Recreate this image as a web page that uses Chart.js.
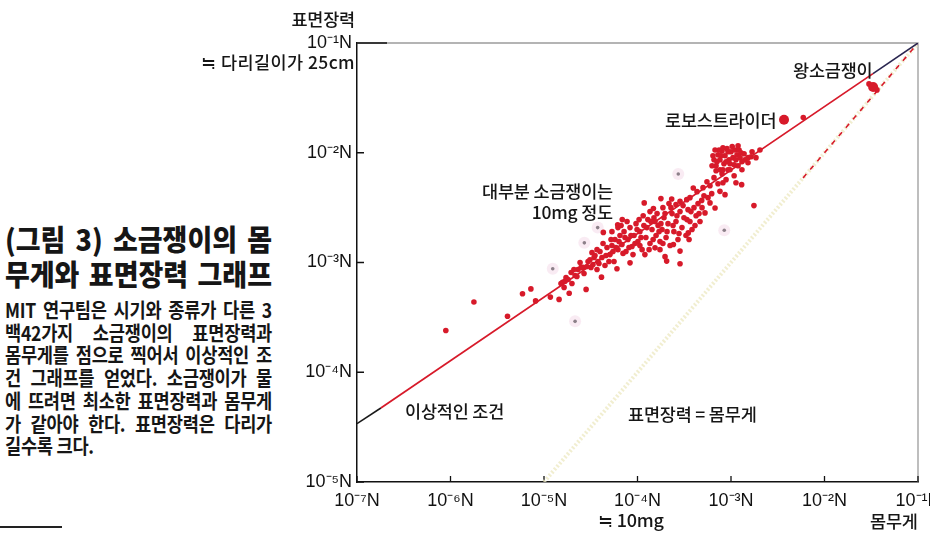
<!DOCTYPE html>
<html><head><meta charset="utf-8">
<script src="https://cdn.jsdelivr.net/npm/chart.js"></script>
<style>
html,body{margin:0;padding:0;background:#fff;}
body{width:930px;height:534px;overflow:hidden;position:relative;font-family:"Noto Sans CJK KR","Noto Sans",sans-serif;color:#161616;}
#wrap{position:absolute;left:290px;top:0;width:700px;height:534px;}
.blk{position:absolute;left:5px;transform-origin:0 0;}
.blk > div{white-space:nowrap;}
.a{position:absolute;white-space:nowrap;font-size:17.5px;font-weight:500;line-height:1;letter-spacing:-0.2px;}
</style></head><body>

<div id="title" class="blk" style="top:221px;transform:scaleX(0.93);font-size:29px;font-weight:900;line-height:34.5px;">
<div class="fit">(그림 3) 소금쟁이의 몸</div>
<div class="fit">무게와 표면장력 그래프</div>
</div>
<div id="body" class="blk" style="top:299px;transform:scaleX(0.88);font-size:20px;font-weight:700;line-height:22.7px;letter-spacing:-0.3px;">
<div class="fit">MIT 연구팀은 시기와 종류가 다른 3</div>
<div class="fit">백42가지 소금쟁이의 표면장력과</div>
<div class="fit">몸무게를 점으로 찍어서 이상적인 조</div>
<div class="fit">건 그래프를 얻었다. 소금쟁이가 물</div>
<div class="fit">에 뜨려면 최소한 표면장력과 몸무게</div>
<div class="fit">가 같아야 한다. 표면장력은 다리가</div>
<div>길수록 크다.</div>
</div>
<div style="position:absolute;left:0;top:526px;width:62px;height:2px;background:#222"></div>

<div id="wrap"><canvas id="c"></canvas></div>

<div class="a" style="right:575px;top:10px;">표면장력</div>
<div class="a" style="right:575px;top:53px;letter-spacing:0.4px;">≒ 다리길이가 25cm</div>
<div class="a" style="left:598px;top:510px;font-size:18px;">≒ 10mg</div>
<div class="a" style="left:870px;top:512px;">몸무게</div>
<div class="a" style="left:793px;top:61px;">왕소금쟁이</div>
<div class="a" style="left:665px;top:111px;">로보스트라이더</div>
<div class="a" style="right:317px;top:180px;text-align:right;line-height:21px;">대부분 소금쟁이는<br>10mg 정도</div>
<div class="a" style="left:405px;top:402px;">이상적인 조건</div>
<div class="a" style="left:628px;top:405px;">표면장력 = 몸무게</div>

<script>
// axis ticks
const xTickValues = [1e-7, 1e-6, 1e-5, 1e-4, 1e-3, 1e-2, 1e-1];
const xTickLabels = ['10⁻⁷N', '10⁻⁶N', '10⁻⁵N', '10⁻⁴N', '10⁻³N', '10⁻²N', '10⁻¹N'];
const yTickValues = [1e-5, 1e-4, 1e-3, 1e-2, 1e-1];
const yTickLabels = ['10⁻⁵N', '10⁻⁴N', '10⁻³N', '10⁻²N', '10⁻¹N'];

// water strider points: weight (N) and surface tension force (N)
const weightN = [
 8.91e-7,1.78e-6,4.07e-6,5.89e-6,7.24e-6,8.13e-6,1.17e-5,1.45e-5,1.86e-5,2.82e-5,1.58e-5,1.68e-5,4.12e-5,6.03e-5,8.32e-5,
 1.72e-5,1.95e-5,2.15e-5,2.31e-5,2.43e-5,2.61e-5,2.88e-5,3.10e-5,3.26e-5,3.51e-5,3.78e-5,3.97e-5,4.17e-5,4.49e-5,4.72e-5,5.08e-5,5.33e-5,5.61e-5,3.69e-5,3.34e-5,
 5.74e-5,6.18e-5,6.50e-5,6.82e-5,7.18e-5,7.53e-5,7.91e-5,8.32e-5,8.73e-5,9.18e-5,9.64e-5,1.01e-4,1.06e-4,1.12e-4,1.17e-4,1.23e-4,1.29e-4,1.36e-4,1.43e-4,1.50e-4,1.58e-4,1.66e-4,1.74e-4,5.33e-5,6.18e-5,7.73e-5,8.95e-5,1.20e-4,1.06e-4,
 1.83e-4,1.92e-4,2.02e-4,2.12e-4,2.23e-4,2.34e-4,2.45e-4,2.58e-4,2.71e-4,2.85e-4,2.99e-4,3.14e-4,3.30e-4,3.47e-4,3.64e-4,3.83e-4,4.02e-4,4.23e-4,4.44e-4,4.66e-4,1.87e-4,2.17e-4,2.58e-4,3.64e-4,4.33e-4,1.54e-4,1.36e-4,1.74e-4,
 1.18e-4,1.48e-4,1.78e-4,2.32e-4,2.85e-4,3.95e-4,4.86e-4,5.96e-4,6.22e-4,7.62e-4,6.75e-4,5.27e-4,3.49e-4,2.85e-4,1.97e-4,2.05e-4,2.85e-4,2.42e-4,1.54e-4,1.30e-3,1.76e-3,8.63e-4,6.14e-5,6.87e-5,4.31e-5,3.36e-4,
 5.02e-4,5.53e-4,5.96e-4,6.58e-4,7.26e-4,8.02e-4,8.85e-4,9.75e-4,1.08e-3,1.19e-3,1.31e-3,1.41e-3,1.13e-3,8.20e-4,1.52e-3,2.04e-3,1.64e-3,
 6.58e-4,6.92e-4,7.26e-4,7.62e-4,7.62e-4,8.02e-4,8.41e-4,8.63e-4,9.06e-4,9.29e-4,9.53e-4,1.00e-3,1.05e-3,1.10e-3,1.16e-3,1.22e-3,1.28e-3,6.92e-4,6.27e-4,8.20e-4,9.75e-4,7.45e-4,
 1.52e-5,1.64e-5,1.81e-5,1.99e-5,2.09e-5,2.25e-5,2.49e-5,2.68e-5,2.96e-5,3.18e-5,3.43e-5,3.69e-5,3.87e-5,4.28e-5,4.60e-5,4.95e-5,5.21e-5,5.47e-5,
 5.89e-5,6.34e-5,6.67e-5,7.00e-5,7.35e-5,8.11e-5,8.51e-5,9.40e-5,9.89e-5,1.04e-4,1.09e-4,1.15e-4,1.26e-4,1.33e-4,1.39e-4,1.47e-4,1.62e-4,1.70e-4,1.78e-4,1.87e-4,
 1.97e-4,2.07e-4,2.28e-4,2.40e-4,2.64e-4,2.78e-4,3.07e-4,3.38e-4,3.56e-4,3.73e-4,4.12e-4,4.55e-4,4.90e-4,5.14e-4,5.68e-4,
 6.41e-4,6.75e-4,7.08e-4,7.82e-4,8.20e-4,8.85e-4,9.29e-4,1.03e-3,1.08e-3,1.13e-3,1.25e-3,1.31e-3,1.38e-3,1.19e-3,
 1.52e-3,1.68e-3,1.85e-3,
 5.93e-3,2.99e-2,3.64e-2
];
const tensionN = [
 2.40e-4,4.37e-4,3.24e-4,5.19e-4,5.75e-4,4.47e-4,4.84e-4,4.61e-4,5.25e-4,5.69e-4,6.61e-4,6.76e-4,7.35e-4,8.77e-4,9.93e-4,
 7.31e-4,8.11e-4,7.62e-4,8.63e-4,1.00e-3,9.02e-4,9.20e-4,1.06e-3,1.23e-3,1.16e-3,1.02e-3,1.26e-3,1.11e-3,9.40e-4,1.37e-3,1.18e-3,1.43e-3,1.02e-3,8.63e-4,9.59e-4,
 1.62e-3,1.31e-3,1.76e-3,1.46e-3,1.91e-3,1.26e-3,1.62e-3,2.08e-3,1.40e-3,1.76e-3,2.26e-3,1.55e-3,1.91e-3,1.31e-3,2.17e-3,1.69e-3,2.46e-3,1.49e-3,2.00e-3,2.56e-3,1.76e-3,2.17e-3,1.55e-3,1.91e-3,2.08e-3,2.36e-3,1.18e-3,1.18e-3,1.43e-3,
 2.00e-3,2.56e-3,1.69e-3,2.26e-3,1.43e-3,2.79e-3,1.91e-3,2.36e-3,1.62e-3,2.91e-3,2.08e-3,2.56e-3,1.76e-3,3.03e-3,2.36e-3,2.00e-3,3.16e-3,2.67e-3,3.44e-3,2.36e-3,3.16e-3,3.44e-3,3.37e-3,3.90e-3,4.42e-3,2.36e-3,2.91e-3,1.31e-3,
 3.49e-3,3.10e-3,3.82e-3,3.79e-3,3.61e-3,4.78e-3,3.68e-3,3.49e-3,4.24e-3,4.45e-3,3.14e-3,2.83e-3,1.86e-3,1.27e-3,1.13e-3,1.03e-3,9.73e-4,1.46e-3,1.36e-3,5.12e-3,3.30e-3,4.15e-3,2.21e-3,2.46e-3,1.88e-3,3.74e-3,
 4.81e-3,5.45e-3,5.01e-3,5.93e-3,5.22e-3,6.44e-3,5.69e-3,7.00e-3,6.18e-3,7.62e-3,7.00e-3,8.63e-3,5.33e-3,5.33e-3,9.02e-3,1.06e-2,9.20e-3,
 8.63e-3,7.62e-3,9.59e-3,7.00e-3,8.63e-3,1.04e-2,7.94e-3,9.40e-3,1.09e-2,7.00e-3,8.63e-3,1.02e-2,9.02e-3,1.06e-2,9.59e-3,1.06e-2,1.00e-2,6.85e-3,7.62e-3,7.00e-3,7.94e-3,1.06e-2,
 6.44e-4,5.93e-4,7.00e-4,6.44e-4,8.63e-4,7.46e-4,9.02e-4,7.94e-4,1.02e-3,9.02e-4,1.11e-3,1.31e-3,9.79e-4,1.49e-3,1.16e-3,1.02e-3,1.62e-3,1.26e-3,
 1.37e-3,1.55e-3,2.17e-3,1.21e-3,1.69e-3,1.37e-3,1.76e-3,1.49e-3,2.00e-3,2.46e-3,1.69e-3,2.67e-3,2.08e-3,1.31e-3,2.36e-3,1.62e-3,2.79e-3,1.91e-3,2.26e-3,1.49e-3,
 2.79e-3,1.91e-3,3.16e-3,2.17e-3,2.67e-3,1.84e-3,3.30e-3,2.46e-3,1.62e-3,2.91e-3,2.17e-3,2.79e-3,3.16e-3,4.06e-3,3.90e-3,
 9.40e-3,1.06e-2,8.28e-3,9.40e-3,1.11e-2,8.28e-3,1.02e-2,1.14e-2,7.78e-3,8.63e-3,9.02e-3,8.28e-3,9.79e-3,1.16e-2,
 8.11e-3,1.02e-2,9.02e-3,
 2.09e-2,4.24e-2,3.74e-2
];
// named species: 로보스트라이더, 왕소금쟁이
const namedWeightN = [3.69e-3, 3.31e-2];
const namedTensionN = [2.0e-2, 3.98e-2];
// faint show-through dots in the print
const faintWeightN = [1.24e-5, 2.70e-5, 3.75e-5, 2.73e-4, 8.47e-4, 2.15e-5];
const faintTensionN = [8.77e-4, 1.51e-3, 2.08e-3, 6.40e-3, 1.97e-3, 2.91e-4];
// ideal-condition line (ends drawn dark) and weight = tension line
const idealWeightN = [1e-7, 1.8e-7, 3.3e-2, 1e-1];
const idealTensionN = [3.4e-5, 4.72e-5, 5.26e-2, 1e-1];
const equalWeightN = [1e-5, 5.9e-3, 1e-1];
const equalTensionN = [1e-5, 5.9e-3, 1e-1];

// justify caption lines to the column width (267px on screen)
function fitLines() {
  document.querySelectorAll('.blk').forEach(blk => {
    const sx = blk.id === 'title' ? 0.93 : 0.88;
    blk.querySelectorAll('.fit').forEach(el => {
      el.style.display = 'inline-block';
      el.style.wordSpacing = '0px';
      el.style.letterSpacing = '';
      const w = el.getBoundingClientRect().width;
      const spaces = (el.textContent.match(/ /g) || []).length;
      const extra = (267 - w) / sx;
      if (spaces) el.style.wordSpacing = (extra / spaces) + 'px';
      el.style.display = 'block';
    });
  });
}
fitLines();
if (document.fonts && document.fonts.ready) document.fonts.ready.then(fitLines);

const pts = (xs, ys) => xs.map((v, i) => ({x: v, y: ys[i]}));
const seg = (xs, ys, a, b) => pts(xs.slice(a, b + 1), ys.slice(a, b + 1));

const RED = '#d71a2a';
const frame = {
  id: 'frame',
  beforeDatasetsDraw(chart) {
    const {ctx, chartArea: a, scales: {x, y}} = chart;
    ctx.save();
    ctx.strokeStyle = '#9c9c9c'; ctx.lineWidth = 1.3;
    ctx.beginPath(); ctx.moveTo(a.left, a.top); ctx.lineTo(a.right, a.top); ctx.lineTo(a.right, a.bottom); ctx.stroke();
    ctx.strokeStyle = '#111'; ctx.lineWidth = 1.3;
    ctx.beginPath();
    ctx.moveTo(a.left, a.top); ctx.lineTo(a.left + 30, a.top);
    xTickValues.forEach(v => { const p = x.getPixelForValue(v); ctx.moveTo(p, a.bottom); ctx.lineTo(p, a.bottom - 6); });
    yTickValues.forEach(v => { const p = y.getPixelForValue(v); ctx.moveTo(a.left, p); ctx.lineTo(a.left + 7, p); });
    ctx.stroke();
    ctx.restore();
  }
};

const lineDs = (data, color, width, extra) => Object.assign({
  data, showLine: true, borderColor: color, borderWidth: width, pointRadius: 0, fill: false, tension: 0
}, extra || {});

new Chart(document.getElementById('c'), {
  type: 'scatter',
  data: {
    datasets: [
      {data: pts(namedWeightN, namedTensionN), backgroundColor: RED, borderWidth: 0, pointRadius: 5},
      {data: pts(weightN, tensionN), backgroundColor: RED, borderWidth: 0, pointRadius: 2.8},
      {data: pts(faintWeightN, faintTensionN), backgroundColor: '#8c8089', borderWidth: 0, pointRadius: 1.8},
      {data: pts(faintWeightN, faintTensionN), backgroundColor: 'rgba(240,205,225,0.4)', borderWidth: 0, pointRadius: 6},
      lineDs(seg(idealWeightN, idealTensionN, 0, 1), '#1a1a1a', 1.6),
      lineDs(seg(idealWeightN, idealTensionN, 1, 2), RED, 1.8),
      lineDs(seg(idealWeightN, idealTensionN, 2, 3), '#2a2650', 1.6),
      lineDs(seg(equalWeightN, equalTensionN, 1, 2), RED, 1.6, {borderDash: [5, 6]}),
      lineDs(seg(equalWeightN, equalTensionN, 0, 2), 'rgba(238,234,196,0.8)', 4, {borderDash: [2, 2]})
    ]
  },
  options: {
    responsive: true, maintainAspectRatio: false, animation: false, events: [],
    devicePixelRatio: 1,
    layout: {padding: {left: 0, right: 72, top: 43, bottom: 0}},
    plugins: {legend: {display: false}, tooltip: {enabled: false}},
    scales: {
      x: {
        type: 'logarithmic', min: 1e-7, max: 1e-1,
        afterBuildTicks: s => { s.ticks = xTickValues.map(v => ({value: v, major: true})); },
        afterFit: s => { s.height = 52; },
        grid: {display: false, drawTicks: false},
        border: {display: true, color: '#111', width: 1.5},
        ticks: {
          autoSkip: false, maxRotation: 0, padding: 8, color: '#111',
          font: {family: '"Liberation Sans Narrow","Liberation Sans",sans-serif', size: 18},
          callback: v => xTickLabels[xTickValues.indexOf(v)]
        }
      },
      y: {
        type: 'logarithmic', min: 1e-5, max: 1e-1,
        afterBuildTicks: s => { s.ticks = yTickValues.map(v => ({value: v, major: true})); },
        afterFit: s => { s.width = 67; },
        grid: {display: false, drawTicks: false},
        border: {display: true, color: '#111', width: 1.5},
        ticks: {
          autoSkip: false, padding: 5, color: '#111',
          font: {family: '"Liberation Sans Narrow","Liberation Sans",sans-serif', size: 18},
          callback: v => yTickLabels[yTickValues.indexOf(v)]
        }
      }
    }
  },
  plugins: [frame]
});
</script>
</body></html>
